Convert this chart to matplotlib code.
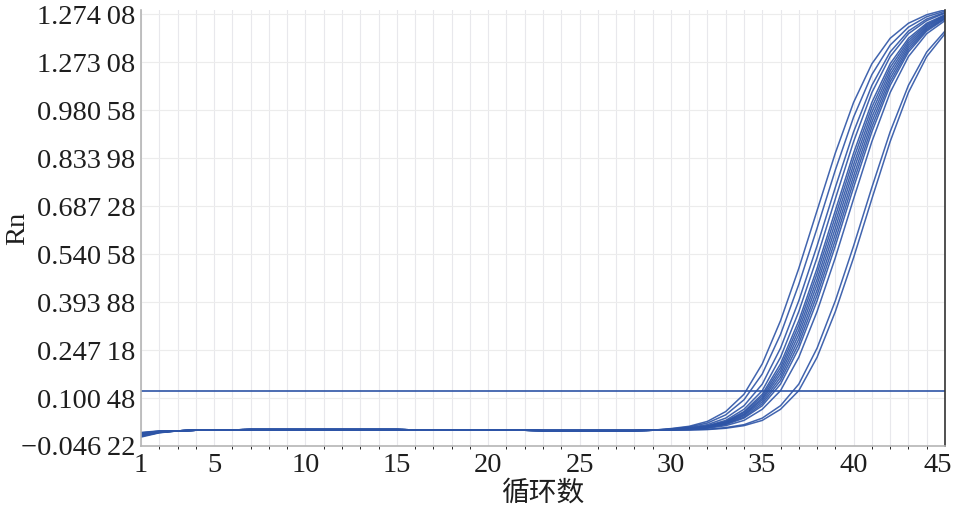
import numpy as np
import matplotlib
matplotlib.use("Agg")
import matplotlib.pyplot as plt
from matplotlib.transforms import ScaledTranslation

# x axis: PCR cycles
cycles = list(range(1, 46))
xtick_values = [1, 5, 10, 15, 20, 25, 30, 35, 40, 45]

# y tick labels as printed on the original (evenly spaced)
ytick_labels = ["\u22120.046\u200922", "0.100\u200948", "0.247\u200918", "0.393\u200988",
                "0.540\u200958", "0.687\u200928", "0.833\u200998", "0.980\u200958",
                "1.273\u200908", "1.274\u200908"]
ytick_start = -0.04622
ytick_step = 0.1467

threshold = 0.121

# values at cycle 1 and 2 for each of the 14 wells
first_cycle = [-0.019, -0.017, -0.016, -0.015, -0.014, -0.013, -0.012,
               -0.011, -0.010, -0.009, -0.008, -0.007, -0.006, -0.005]
second_cycle = [-0.006, -0.005, -0.005, -0.004, -0.004, -0.003, -0.003,
                -0.003, -0.002, -0.002, -0.002, -0.001, -0.001, 0.000]

# shared flat baseline, cycles 3..29
baseline = [0.000, 0.002, 0.003, 0.003, 0.004, 0.004, 0.004, 0.004, 0.004,
            0.004, 0.004, 0.004, 0.004, 0.003, 0.003, 0.002, 0.002, 0.002,
            0.002, 0.002, 0.001, 0.001, 0.001, 0.001, 0.001, 0.001, 0.002]

# amplification part, cycles 30..45
rise_342 = [0.007, 0.014, 0.029, 0.059, 0.112, 0.205, 0.337, 0.497, 0.674, 0.850,
            1.005, 1.123, 1.201, 1.247, 1.273, 1.288]
rise_345 = [0.006, 0.012, 0.024, 0.049, 0.095, 0.174, 0.295, 0.448, 0.620, 0.798,
            0.960, 1.090, 1.180, 1.235, 1.267, 1.284]
rise_348 = [0.005, 0.010, 0.019, 0.039, 0.077, 0.143, 0.253, 0.398, 0.566, 0.745,
            0.915, 1.057, 1.159, 1.223, 1.260, 1.280]
rise_350 = [0.004, 0.008, 0.016, 0.032, 0.066, 0.123, 0.225, 0.365, 0.530, 0.710,
            0.885, 1.035, 1.145, 1.215, 1.255, 1.278]
rise_352 = [0.004, 0.007, 0.014, 0.029, 0.059, 0.112, 0.205, 0.337, 0.497, 0.674,
            0.850, 1.005, 1.123, 1.201, 1.247, 1.273]
rise_353 = [0.004, 0.007, 0.014, 0.027, 0.056, 0.106, 0.194, 0.323, 0.481, 0.656,
            0.833, 0.990, 1.112, 1.194, 1.243, 1.271]
rise_354 = [0.004, 0.006, 0.013, 0.026, 0.052, 0.100, 0.184, 0.309, 0.464, 0.638,
            0.815, 0.975, 1.101, 1.187, 1.239, 1.269]
rise_355 = [0.004, 0.006, 0.012, 0.024, 0.049, 0.095, 0.174, 0.295, 0.448, 0.620,
            0.798, 0.960, 1.090, 1.180, 1.235, 1.267]
rise_356 = [0.003, 0.006, 0.011, 0.022, 0.046, 0.089, 0.164, 0.281, 0.431, 0.602,
            0.780, 0.945, 1.079, 1.173, 1.231, 1.264]
rise_357 = [0.003, 0.005, 0.010, 0.021, 0.042, 0.083, 0.154, 0.267, 0.415, 0.584,
            0.763, 0.930, 1.068, 1.166, 1.227, 1.262]
rise_358 = [0.003, 0.005, 0.010, 0.019, 0.039, 0.077, 0.143, 0.253, 0.398, 0.566,
            0.745, 0.915, 1.057, 1.159, 1.223, 1.260]
rise_360 = [0.003, 0.004, 0.008, 0.016, 0.032, 0.066, 0.123, 0.225, 0.365, 0.530,
            0.710, 0.885, 1.035, 1.145, 1.215, 1.255]
rise_368 = [0.003, 0.003, 0.005, 0.010, 0.019, 0.039, 0.077, 0.143, 0.253, 0.398,
            0.566, 0.745, 0.915, 1.057, 1.159, 1.223]
rise_370 = [0.003, 0.003, 0.004, 0.008, 0.016, 0.032, 0.066, 0.123, 0.225, 0.365,
            0.530, 0.710, 0.885, 1.035, 1.145, 1.215]

rises = [rise_342, rise_345, rise_348, rise_350, rise_352, rise_353, rise_354,
         rise_355, rise_356, rise_357, rise_358, rise_360, rise_368, rise_370]

blue = "#2d54a6"
serif = ["Liberation Serif", "DejaVu Serif"]
txt = "#1e1e1e"

fig = plt.figure(figsize=(9.55, 5.09), dpi=100)
ax = fig.add_axes([0.1476, 0.1238, 0.8419, 0.8566])

for i, rise in enumerate(rises):
    rn = [first_cycle[i], second_cycle[i]] + baseline + rise
    ax.plot(cycles, rn, color=blue, lw=1.1, alpha=0.9, solid_joinstyle="round")

ax.axhline(threshold, color=blue, lw=1.2)

yticks = [ytick_start + k * ytick_step for k in range(len(ytick_labels))]
ax.set_xlim(1, 45)
ax.set_ylim(yticks[0], yticks[-1] + 0.0135)
ax.set_xticks(xtick_values)
ax.set_xticks(cycles, minor=True)
ax.set_yticks(yticks)
ax.set_yticklabels(ytick_labels, fontfamily=serif, fontsize=20.5, color=txt)
ax.set_xticklabels([str(v) for v in xtick_values], fontfamily=serif,
                   fontsize=20.5, color=txt)
ax.tick_params(length=0, pad=4)
ax.tick_params(axis="x", pad=5)

# last x label sits a little left so it stays inside the figure
last = ax.get_xticklabels()[-1]
last.set_transform(last.get_transform() + ScaledTranslation(-7 / 100, 0, fig.dpi_scale_trans))

ax.grid(which="both", axis="x", color="#e8e8ec", lw=0.8)
ax.grid(which="major", axis="y", color="#ececec", lw=0.8)
ax.set_axisbelow(True)

ax.spines["top"].set_visible(False)
ax.spines["left"].set_color("#b5b5b5")
ax.spines["bottom"].set_color("#b5b5b5")
ax.spines["right"].set_color("#333333")
for s in ["left", "bottom", "right"]:
    ax.spines[s].set_linewidth(1.2)

ax.set_ylabel("Rn", fontfamily=serif, fontsize=20.5, color=txt, va="center")
ax.yaxis.set_label_coords(-0.153, 0.5)
ax.set_xlabel("循环数", fontfamily=["Noto Sans CJK SC", "DejaVu Sans"],
              fontsize=20, color=txt, labelpad=0)

fig.savefig("out.png", dpi=100)
